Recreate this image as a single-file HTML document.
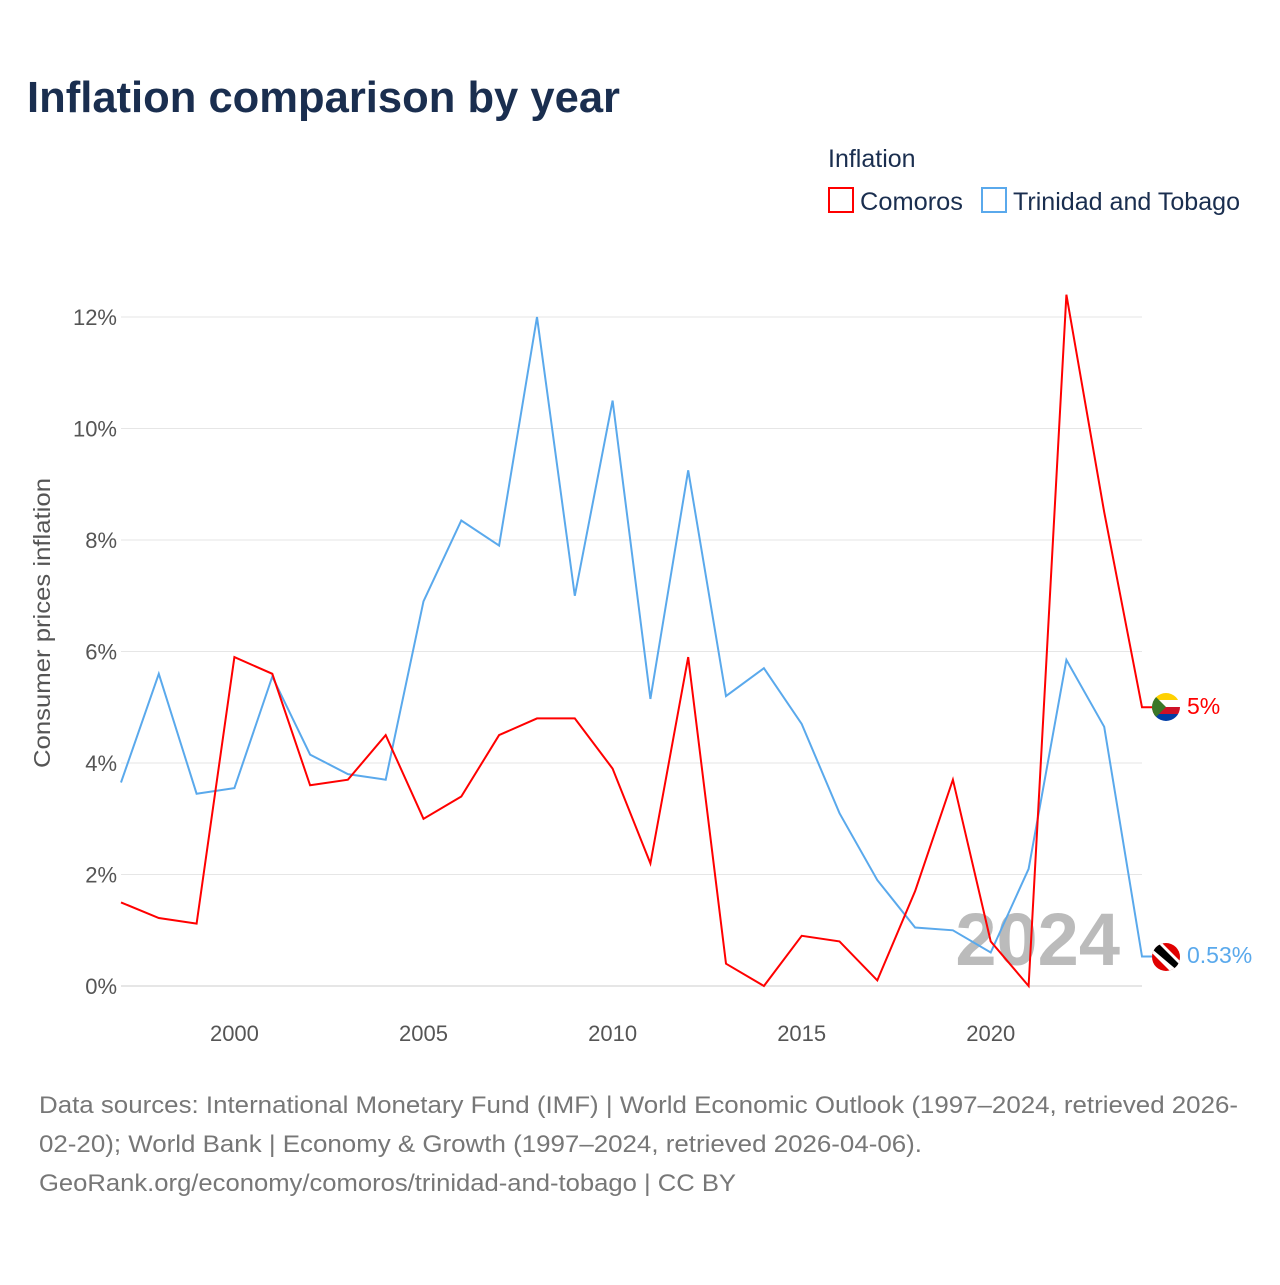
<!DOCTYPE html>
<html><head><meta charset="utf-8"><style>
body{margin:0;background:#fff;width:1280px;height:1280px;overflow:hidden;font-family:"Liberation Sans",sans-serif}
svg text{font-family:"Liberation Sans",sans-serif}
</style></head><body>
<svg id="chart" width="1280" height="1280" xmlns="http://www.w3.org/2000/svg">
<text x="27" y="112" font-size="44" font-weight="bold" fill="#1a2e4f" textLength="593" lengthAdjust="spacingAndGlyphs">Inflation comparison by year</text>
<text x="828" y="167" font-size="25" fill="#1a2e4f">Inflation</text>
<g><rect x="829" y="188" width="24" height="24" fill="none" stroke="#f00" stroke-width="2"/><text x="860" y="210" font-size="25" fill="#1a2e4f" textLength="103" lengthAdjust="spacingAndGlyphs">Comoros</text></g>
<g><rect x="982" y="188" width="24" height="24" fill="none" stroke="#5aa9ec" stroke-width="2"/><text x="1013" y="210" font-size="25" fill="#1a2e4f" textLength="227" lengthAdjust="spacingAndGlyphs">Trinidad and Tobago</text></g>
<text transform="translate(50,623) rotate(-90)" text-anchor="middle" font-size="23" fill="#555" textLength="290" lengthAdjust="spacingAndGlyphs">Consumer prices inflation</text>
<g id="grid"></g><g id="xt"></g>
<text x="1120" y="965" text-anchor="end" font-size="74" font-weight="bold" fill="#bbb">2024</text>
<g id="series"></g>
<g><clipPath id="c1"><circle cx="1166" cy="707" r="14"/></clipPath><g clip-path="url(#c1)"><rect x="1152" y="693" width="28" height="7" fill="#ffd100"/><rect x="1152" y="700" width="28" height="7" fill="#fff"/><rect x="1152" y="707" width="28" height="7" fill="#ce1126"/><rect x="1152" y="714" width="28" height="7" fill="#003da5"/><polygon points="1152,693 1166,707 1152,721" fill="#3a7728"/></g></g>
<g><clipPath id="c2"><circle cx="1166" cy="957" r="14"/></clipPath><g clip-path="url(#c2)"><rect x="1152" y="943" width="28" height="28" fill="#e00000"/><polygon points="1152,943 1162,943 1180,961 1180,971 1170,971 1152,953" fill="#fff"/><polygon points="1152,945 1158,943 1180,965 1178,971 1152,949" fill="#000"/></g></g>
<text x="1187" y="714" font-size="23" fill="#f00">5%</text>
<text x="1187" y="963" font-size="23" fill="#5aa9ec">0.53%</text>
<g font-size="24" fill="#777">
<text x="39" y="1113" textLength="1199" lengthAdjust="spacingAndGlyphs">Data sources: International Monetary Fund (IMF) | World Economic Outlook (1997–2024, retrieved 2026-</text>
<text x="39" y="1152" textLength="883" lengthAdjust="spacingAndGlyphs">02-20); World Bank | Economy &amp; Growth (1997–2024, retrieved 2026-04-06).</text>
<text x="39" y="1191" textLength="697" lengthAdjust="spacingAndGlyphs">GeoRank.org/economy/comoros/trinidad-and-tobago | CC BY</text>
</g>
</svg>
<script>
const years=[1997,1998,1999,2000,2001,2002,2003,2004,2005,2006,2007,2008,2009,2010,2011,2012,2013,2014,2015,2016,2017,2018,2019,2020,2021,2022,2023,2024];
const comoros=[1.5,1.22,1.12,5.9,5.6,3.6,3.7,4.5,3.0,3.4,4.5,4.8,4.8,3.9,2.2,5.9,0.4,0.0,0.9,0.8,0.1,1.7,3.7,0.8,0.0,12.4,8.5,5.0];
const trinidad=[3.65,5.6,3.45,3.55,5.55,4.15,3.8,3.7,6.9,8.35,7.9,12.0,7.0,10.5,5.15,9.25,5.2,5.7,4.7,3.1,1.9,1.05,1.0,0.6,2.1,5.85,4.65,0.53];
const yTicks=[0,2,4,6,8,10,12];
const xTicks=[2000,2005,2010,2015,2020];
const NS="http://www.w3.org/2000/svg";
const x=v=>121+(v-1997)*(1142-121)/27;
const y=v=>986-v*55.75;
const grid=document.getElementById('grid'),xt=document.getElementById('xt'),ser=document.getElementById('series');
yTicks.forEach(t=>{
 const l=document.createElementNS(NS,'line');
 
 
 l.setAttribute('x1',121);l.setAttribute('x2',1142);l.setAttribute('y1',y(t));l.setAttribute('y2',y(t));
 l.setAttribute('stroke',t===0?'#ccc':'#e6e6e6');l.setAttribute('stroke-width',1);grid.appendChild(l);
 const tx=document.createElementNS(NS,'text');
 
 
 tx.setAttribute('x',117);tx.setAttribute('y',y(t)+8);tx.setAttribute('text-anchor','end');
 tx.setAttribute('font-size',22);tx.setAttribute('fill','#555');tx.textContent=t+'%';grid.appendChild(tx);
});
xTicks.forEach(t=>{
 const tx=document.createElementNS(NS,'text');
 
 
 tx.setAttribute('x',x(t));tx.setAttribute('y',1041);tx.setAttribute('text-anchor','middle');
 tx.setAttribute('font-size',22);tx.setAttribute('fill','#555');tx.textContent=t;xt.appendChild(tx);
});
function line(vals,color,name){
 const p=document.createElementNS(NS,'path');
 
 
 let d=vals.map((v,i)=>(i?'L':'M')+x(years[i]).toFixed(1)+','+y(v).toFixed(1)).join(' ');
 d+=' H'+(x(years[years.length-1])+10);
 p.setAttribute('d',d);p.setAttribute('fill','none');p.setAttribute('stroke',color);p.setAttribute('stroke-width',2);
 ser.appendChild(p);
}
line(trinidad,'#5aa9ec','line-trinidad');
line(comoros,'#f00','line-comoros');
</script>
</body></html>
